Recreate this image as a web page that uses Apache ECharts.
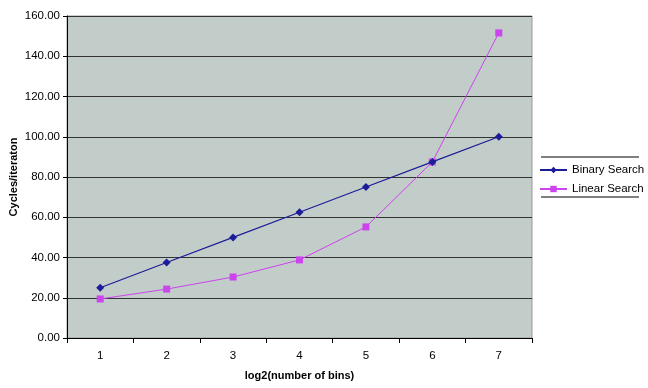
<!DOCTYPE html>
<html><head><meta charset="utf-8">
<script src="https://cdn.jsdelivr.net/npm/echarts@6/dist/echarts.min.js"></script>
<style>html,body{margin:0;padding:0;background:#fff}#c{width:648px;height:388px}</style>
</head><body><div id="c"></div>
<script>
const categories = ['1','2','3','4','5','6','7'];
const binarySearch = [25.0, 37.5, 50.0, 62.5, 75.0, 87.5, 100.0];
const linearSearch = [19.4, 24.3, 30.3, 38.8, 55.2, 87.5, 151.6];
const yTicks = [0, 20, 40, 60, 80, 100, 120, 140, 160];

const chart = echarts.init(document.getElementById('c'));
const font = 'Liberation Sans, Arial, sans-serif';
chart.setOption({
  animation: false,
  grid: {left: 67, right: 116, top: 16, bottom: 50, outerBoundsMode: 'none', containLabel: false,
         show: true, backgroundColor: '#C2CCC9', borderColor: '#9a9a9a', borderWidth: 1},
  xAxis: {
    type: 'category', data: categories, boundaryGap: true,
    name: 'log2(number of bins)', nameLocation: 'middle', nameGap: 32,
    nameTextStyle: {fontFamily: font, fontSize: 11, fontWeight: 'bold', color: '#000'},
    axisLine: {lineStyle: {color: '#000', width: 1}},
    axisTick: {show: true, inside: false, length: 5, lineStyle: {color: '#000'}},
    axisLabel: {fontFamily: font, fontSize: 11.5, color: '#000', margin: 12},
    splitLine: {show: false}
  },
  yAxis: {
    type: 'value', min: yTicks[0], max: yTicks[yTicks.length-1], interval: 20,
    name: 'Cycles/iteraton', nameLocation: 'middle', nameGap: 48, nameMoveOverlap: false,
    nameTextStyle: {fontFamily: font, fontSize: 11, fontWeight: 'bold', color: '#000'},
    axisLine: {show: true, lineStyle: {color: '#000', width: 1}},
    axisTick: {show: true, inside: false, length: 4, lineStyle: {color: '#000'}},
    axisLabel: {fontFamily: font, fontSize: 11.5, color: '#000', margin: 7, formatter: v => v.toFixed(2)},
    splitLine: {show: true, lineStyle: {color: '#333', width: 1}}
  },
  legend: {
    orient: 'vertical', left: 534, top: 159, itemGap: 7, itemWidth: 27, itemHeight: 8,
    textStyle: {fontFamily: font, fontSize: 11.5, color: '#000'},
    data: ['Binary Search', 'Linear Search']
  },
  graphic: [
    {type: 'line', shape: {x1: 541, y1: 157, x2: 639, y2: 157}, style: {stroke: '#000', lineWidth: 1}},
    {type: 'line', shape: {x1: 541, y1: 197, x2: 639, y2: 197}, style: {stroke: '#000', lineWidth: 1}}
  ],
  series: [
    {name: 'Binary Search', type: 'line', data: binarySearch, symbol: 'diamond', symbolSize: 8,
     lineStyle: {color: '#1C1C99', width: 1.2}, itemStyle: {color: '#1C1C99'}, z: 3},
    {name: 'Linear Search', type: 'line', data: linearSearch, symbol: 'rect', symbolSize: 7,
     lineStyle: {color: '#CC44EE', width: 1}, itemStyle: {color: '#CC44EE'}, z: 2}
  ]
});
</script></body></html>
